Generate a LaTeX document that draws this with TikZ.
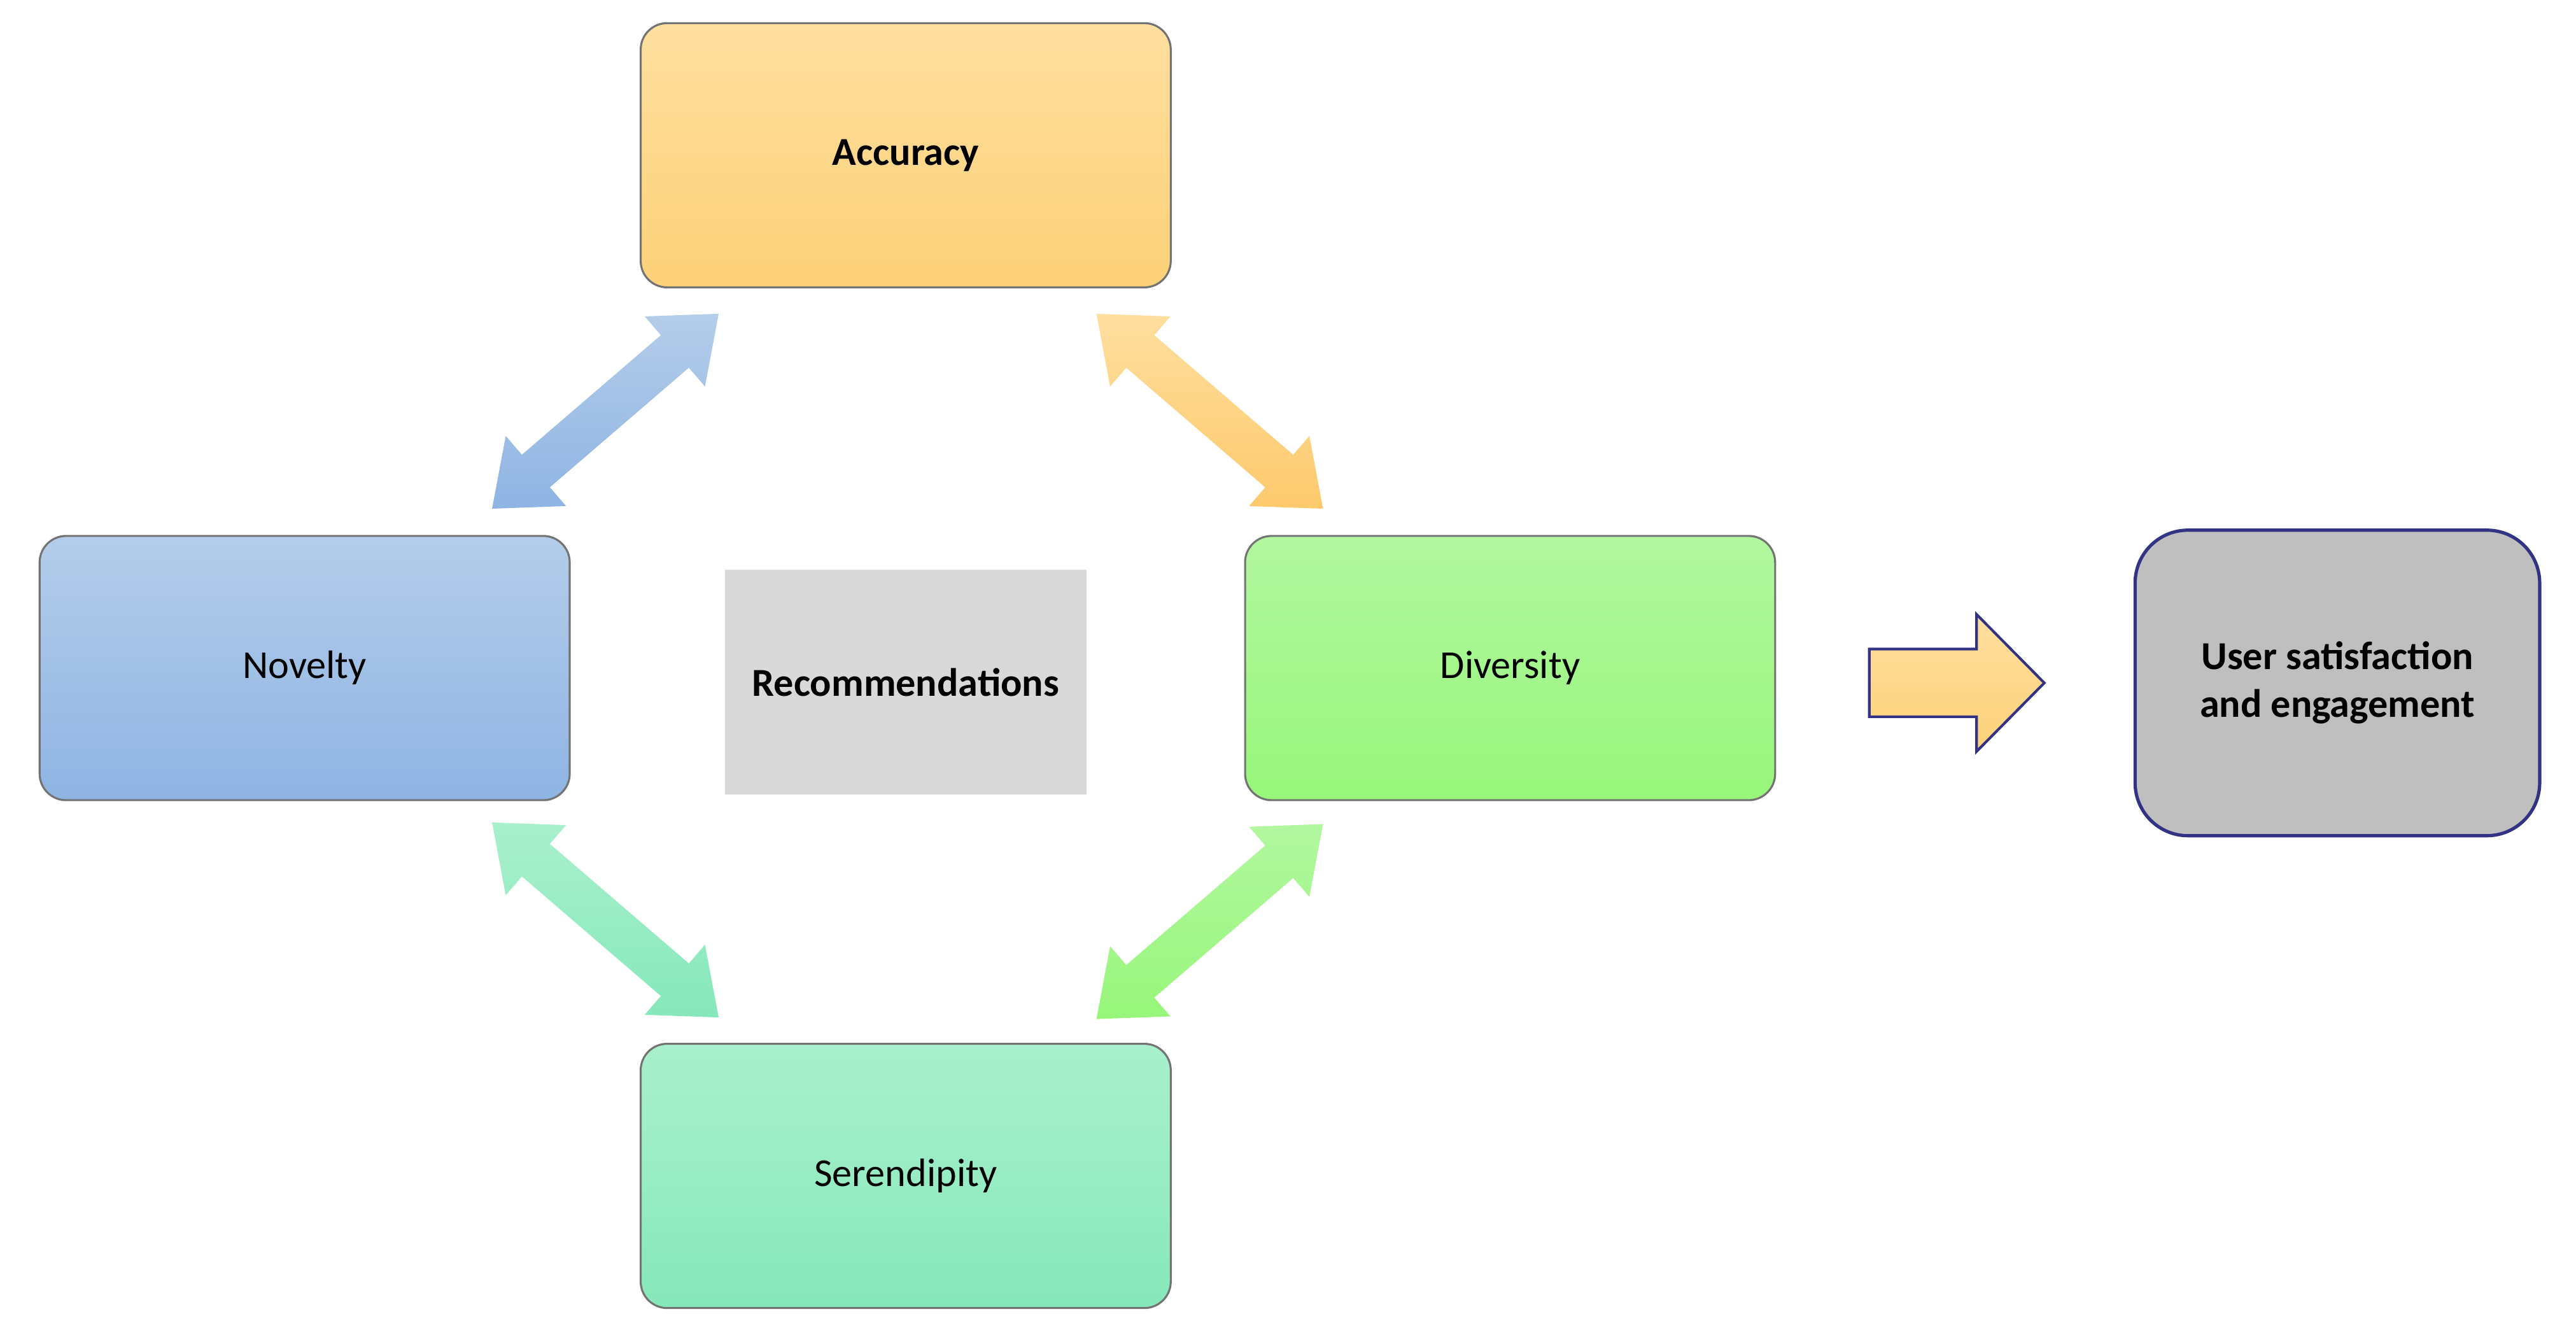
\documentclass[tikz,border=0pt]{standalone}
\usepackage{fontspec}
\setmainfont{Carlito}
\begin{document}
\begin{tikzpicture}[x=0.5pt,y=-0.5pt,
  box/.style={draw=black!55,line width=0.6pt,rounded corners=8pt,minimum width=160.5pt,minimum height=80pt,font=\fontsize{12}{14}\selectfont},
  dba/.style={draw=none}]
\useasboundingbox (0,0) rectangle (1560,804);
\definecolor{accT}{HTML}{FEDF9F}\definecolor{accB}{HTML}{FDD178}
\definecolor{novT}{HTML}{B4CDEA}\definecolor{novB}{HTML}{8FB4E3}
\definecolor{divT}{HTML}{B2F7A0}\definecolor{divB}{HTML}{97F67A}
\definecolor{serT}{HTML}{A9F0CD}\definecolor{serB}{HTML}{86E8BA}
\node[box,top color=accT,bottom color=accB,font=\fontsize{12}{14}\selectfont\bfseries] (acc) at (548.5,94) {Accuracy};
\node[box,top color=novT,bottom color=novB] (nov) at (184.5,404.5) {Novelty};
\node[box,top color=divT,bottom color=divB] (div) at (914.5,404.5) {Diversity};
\node[box,top color=serT,bottom color=serB] (ser) at (548.5,712) {Serendipity};
\node[fill=black!15,minimum width=109.5pt,minimum height=68pt,font=\fontsize{12}{14}\selectfont\bfseries] (rec) at (548.5,413) {Recommendations};
\node[draw=blue!40!black!80,fill=black!25,line width=1pt,rounded corners=16pt,minimum width=122.5pt,minimum height=92.5pt,align=center,font=\fontsize{12}{14.5}\selectfont\bfseries] (usr) at (1415.5,413.5) {User satisfaction\\and engagement};
\newcommand{\dbarr}[4]{%
\begin{scope}[shift={#1},x=0.5pt,y=0.5pt,rotate=#2]
\path[top color=#3,bottom color=#4] (0,0) -- (35,28) -- (35,13) -- (146,13) -- (146,28) -- (181,0) -- (146,-28) -- (146,-13) -- (35,-13) -- (35,-28) -- cycle;
\end{scope}}
\dbarr{(298,308)}{40.7}{novT}{novB}
\dbarr{(664,190)}{-40.7}{accT}{accB!90!orange}
\dbarr{(298,498)}{-40.7}{serT}{serB}
\dbarr{(664,617)}{40.7}{divT}{divB}
\path[draw=blue!40!black!80,line width=0.8pt,top color=accT,bottom color=accB]
 (1132,393) -- (1197,393) -- (1197,372) -- (1238,413.5) -- (1197,455) -- (1197,434) -- (1132,434) -- cycle;
\end{tikzpicture}
\end{document}
